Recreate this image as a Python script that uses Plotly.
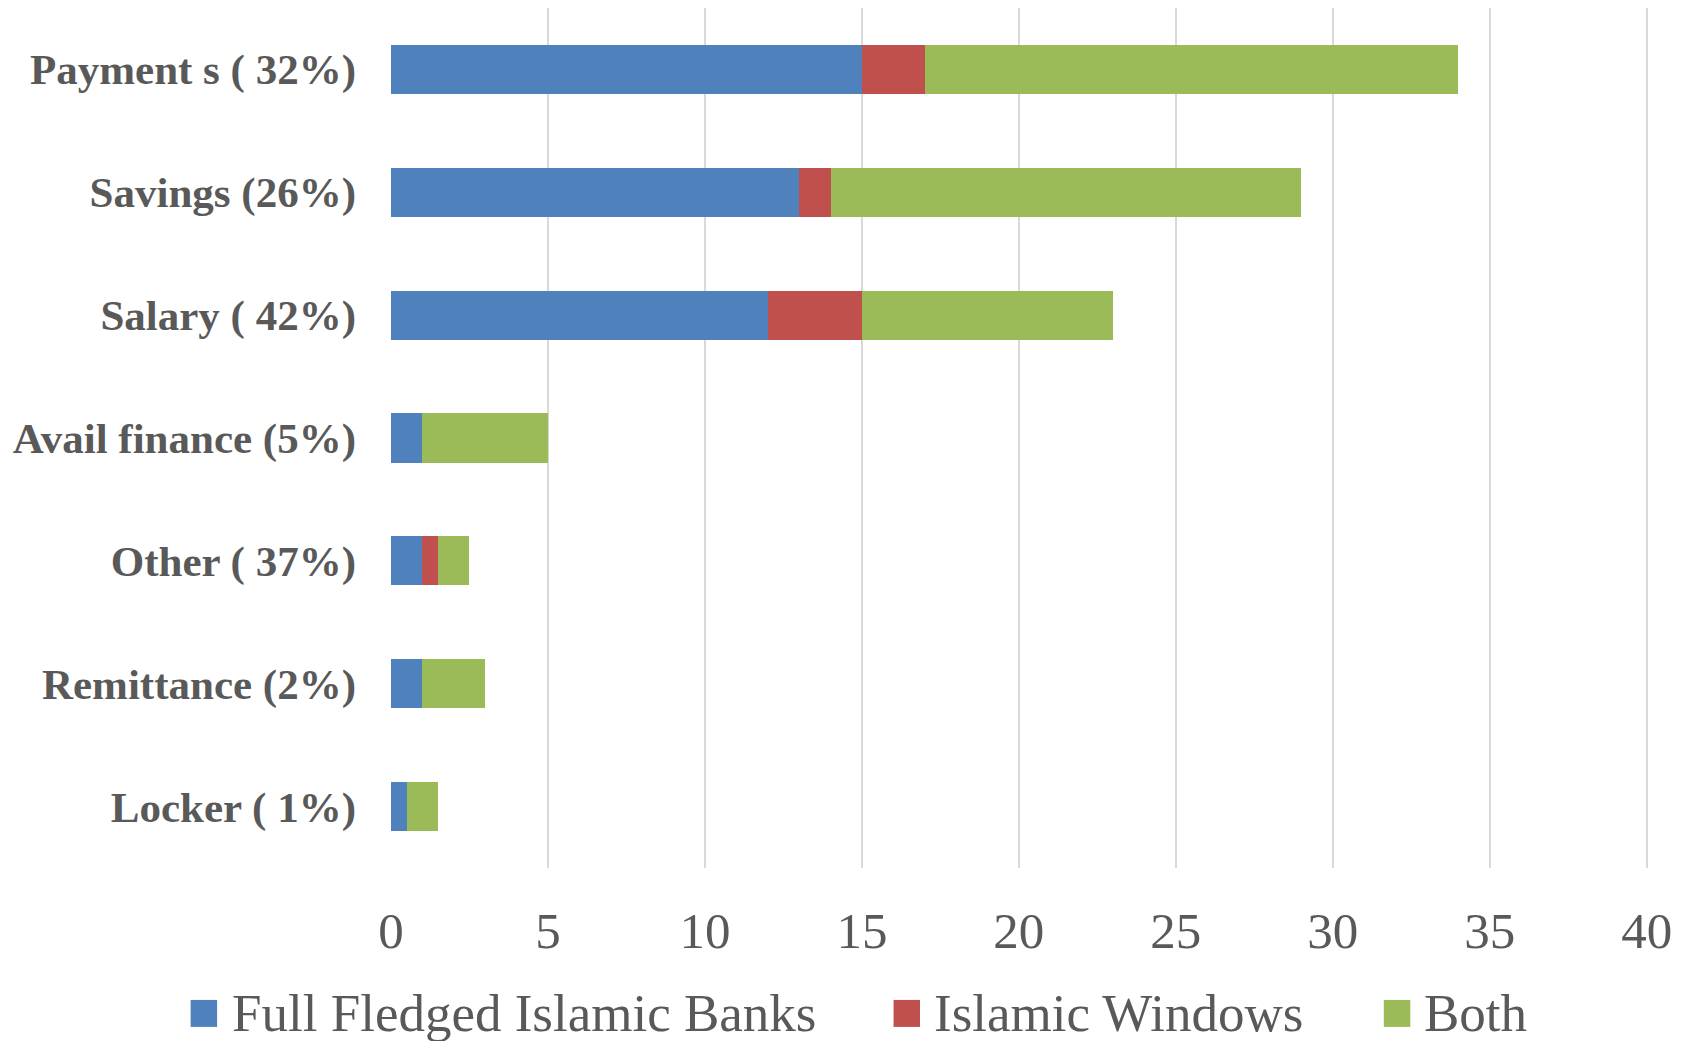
import plotly.graph_objects as go

categories = ["Payment s ( 32%)", "Savings (26%)", "Salary ( 42%)", "Avail finance (5%)",
              "Other ( 37%)", "Remittance (2%)", "Locker ( 1%)"]
full_fledged = [15, 13, 12, 1, 1, 1, 0.5]
islamic_windows = [2, 1, 3, 0, 0.5, 0, 0]
both = [17, 15, 8, 4, 1, 2, 1]
series_names = ["Full Fledged Islamic Banks", "Islamic Windows", "Both"]
series_colors = ["#4F81BD", "#C0504D", "#9BBB59"]
x_ticks = [0, 5, 10, 15, 20, 25, 30, 35, 40]

W, H = 1696, 1041
L, R, T, B = 390.5, 1648.4, 7.5, 868.0
SERIF = "Liberation Serif, Times New Roman, Times, serif"

fig = go.Figure()
for name, vals, col in zip(series_names, [full_fledged, islamic_windows, both], series_colors):
    fig.add_trace(go.Bar(y=categories, x=vals, name=name, orientation="h",
                         marker=dict(color=col, line=dict(width=0)), width=0.4,
                         showlegend=False))

def px_x(p):
    return (p - L) / (R - L)

def px_y(p):
    return (B - p) / (B - T)

# manual legend (large squares as in reference)
legend_sq = [190, 893.4, 1384]
legend_tx = [229, 932, 1422]
shapes = []
annotations = []
for name, col, sx, tx in zip(series_names, series_colors, legend_sq, legend_tx):
    shapes.append(dict(type="rect", xref="paper", yref="paper",
                       x0=px_x(sx), x1=px_x(sx + 26.5), y0=px_y(1027), y1=px_y(1000),
                       fillcolor=col, line=dict(width=0)))
    annotations.append(dict(xref="paper", yref="paper", x=px_x(tx), y=px_y(1013),
                            xanchor="left", yanchor="middle", showarrow=False,
                            text=name, font=dict(family=SERIF, size=53, color="#595959")))

fig.update_layout(
    width=W, height=H,
    margin=dict(l=L, r=W - R, t=T, b=H - B, pad=0, autoexpand=False),
    barmode="stack",
    plot_bgcolor="white", paper_bgcolor="white",
    showlegend=False,
    shapes=shapes, annotations=annotations,
    xaxis=dict(range=[0, 40.04], tickvals=x_ticks, showgrid=True, gridcolor="#d9d9d9", gridwidth=2,
               zeroline=False, showline=False, ticks="", ticklabelstandoff=28, automargin=False,
               tickfont=dict(family=SERIF, size=51, color="#595959")),
    yaxis=dict(autorange="reversed", showgrid=False, zeroline=False, showline=False,
               ticks="", ticklabelstandoff=34, automargin=False,
               tickfont=dict(family=SERIF, size=43, color="#595959", weight="bold")),
)
fig.write_html("out.html", config={"displayModeBar": False},
               post_script="document.body.style.margin='0';document.body.style.overflow='hidden';")
